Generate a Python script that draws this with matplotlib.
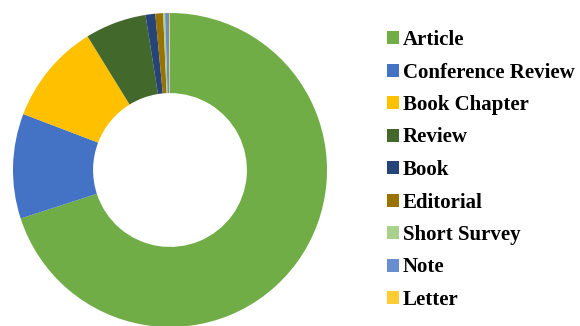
import matplotlib.pyplot as plt
from matplotlib.patches import Patch

# document types and their share (%)
doc_types = ['Article', 'Conference Review', 'Book Chapter', 'Review', 'Book',
             'Editorial', 'Short Survey', 'Note', 'Letter']
shares = [70.0, 10.8, 10.4, 6.3, 1.0, 0.8, 0.2, 0.4, 0.1]
colors = ['#70AD47', '#4472C4', '#FFC000', '#43682B', '#264478',
          '#997300', '#A9D18E', '#698ED0', '#FFCD33']

W, H = 580, 326
fig = plt.figure(figsize=(W / 100, H / 100), dpi=100)

# donut: centre (170,170) px, radius ~157 px
cx, cy, r = 170, 170, 157
ax = fig.add_axes([(cx - r) / W, (H - cy - r) / H, 2 * r / W, 2 * r / H])
ax.pie(shares, colors=colors, startangle=90, counterclock=False, radius=1,
       wedgeprops=dict(width=0.51, edgecolor='none'))
ax.set_xlim(-1, 1)
ax.set_ylim(-1, 1)
ax.set_aspect('equal')
ax.axis('off')

handles = [Patch(facecolor=c, edgecolor='none') for c in colors]
fig.legend(handles, doc_types, loc='upper left', bbox_to_anchor=(387 / W, 1 - 30 / H),
           frameon=False, prop={'family': 'Liberation Serif', 'weight': 'bold', 'size': 15},
           handlelength=0.57, handleheight=0.57, handletextpad=0.18,
           labelspacing=0.6, borderpad=0, borderaxespad=0)

fig.savefig('out.png', dpi=100)
